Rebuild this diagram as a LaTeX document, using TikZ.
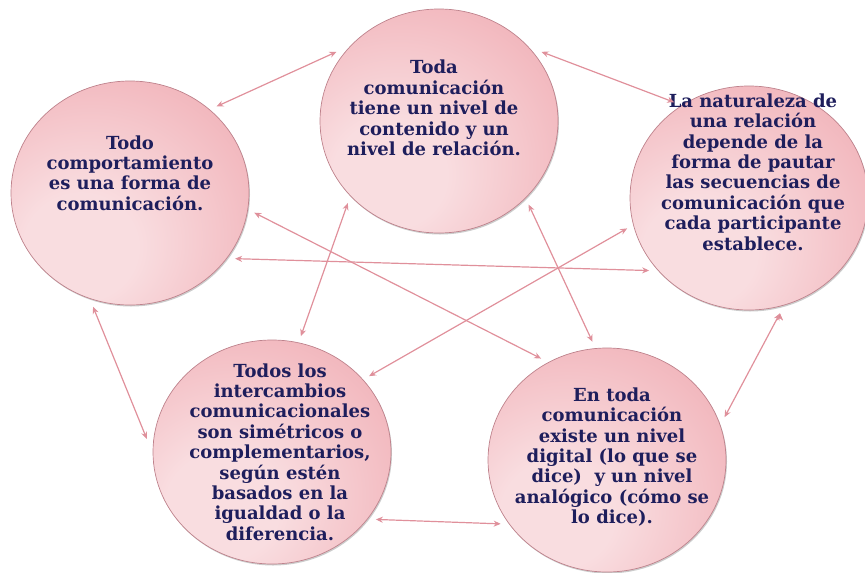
\documentclass[tikz,border=0pt]{standalone}
\usepackage{fontspec}
\setmainfont{DejaVu Serif}
\usepackage{tikz}
\usetikzlibrary{shapes.geometric,shadows,arrows.meta}
\definecolor{bubin}{RGB}{249,221,224}
\definecolor{bubmid}{RGB}{242,184,190}
\definecolor{bubout}{RGB}{230,138,148}
\definecolor{bubedge}{RGB}{190,130,140}
\definecolor{ink}{RGB}{30,30,92}
\definecolor{linkpink}{RGB}{224,144,155}
\pgfdeclareradialshading{bubbleshade}{\pgfpoint{-12bp}{-14bp}}{color(0bp)=(bubin); color(12bp)=(bubin); color(36bp)=(bubmid); color(62bp)=(bubout); color(90bp)=(bubout)}
\tikzset{
	>={Stealth[length=7pt,width=6pt]}, % small heads on both ends
	bubble/.style={ellipse, minimum width=238pt, minimum height=224pt, inner sep=0pt, outer sep=7pt, shading=bubbleshade, draw=bubedge, line width=0.7pt, drop shadow={shadow xshift=1pt, shadow yshift=-1.5pt, opacity=0.4, fill=gray}}, % the pink balls
	idea/.style={align=center, text=ink, font=\bfseries\fontsize{18}{20.4}\selectfont}, % text inside a ball
	link/.style={<->, draw=linkpink, line width=1.2pt}, % the double arrows
}
\begin{document}
\begin{tikzpicture}[x=1pt,y=-1pt]
	\useasboundingbox (0,0) rectangle (865,573);
	\node[bubble] (c1) at (130,193) {};
	\node[bubble] (c2) at (439,121) {};
	\node[bubble] (c3) at (749,198) {};
	\node[bubble] (c4) at (272,452) {};
	\node[bubble] (c5) at (607,460) {};
	
	\node[idea] (t1) at ([yshift=20pt]c1.center) {Todo\\comportamiento\\es una forma de\\comunicación.};
	\node[idea] (t2) at ([yshift=13pt,xshift=-5pt]c2.center) {Toda\\comunicación\\tiene un nivel de\\contenido y un\\nivel de relación.};
	\node[idea] (t3) at ([yshift=26pt,xshift=4pt]c3.center) {La naturaleza de\\una relación\\depende de la\\forma de pautar\\las secuencias de\\comunicación que\\cada participante\\establece.};
	\node[idea] (t4) at ([xshift=8pt]c4.center) {Todos los\\intercambios\\comunicacionales\\son simétricos o\\complementarios,\\según estén\\basados en la\\igualdad o la\\diferencia.};
	\node[idea] (t5) at ([yshift=3pt,xshift=5pt]c5.center) {En toda\\comunicación\\existe un nivel\\digital (lo que se\\dice) \ y un nivel\\analógico (cómo se\\lo dice).};
	
	\draw[link] (c1.45) edge (c2.146)
		(c2.34) edge (c3.128)
		(c1.-9) edge (c5.123)
		(c1.-32) edge (c3.216)
		(c4.38) edge (c3.194)
		(c2.222) edge (c4.76)
		(c2.317) edge (c5.97)
		(c1.252) edge (c4.174)
		(c4.-33) edge (c5.211)
		(c3.285) edge (c5.20);
\end{tikzpicture}
\end{document}
